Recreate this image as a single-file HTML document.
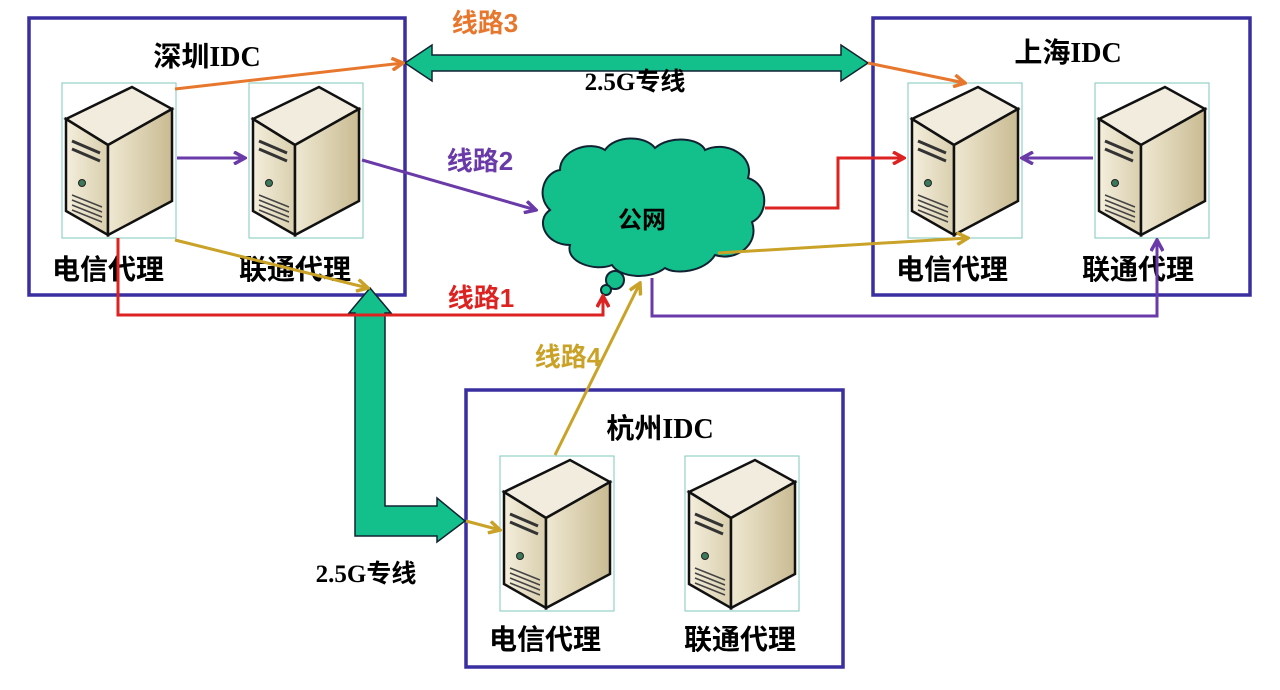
<!DOCTYPE html>
<html><head><meta charset="utf-8"><style>
html,body{margin:0;padding:0;background:#fff;width:1280px;height:690px;overflow:hidden}
text{font-family:"Liberation Serif","Noto Sans CJK SC",sans-serif;font-weight:bold}
.z{font-family:"Liberation Sans","Noto Sans CJK SC",sans-serif;font-weight:bold}
</style></head><body>
<svg width="1280" height="690" viewBox="0 0 1280 690" xmlns="http://www.w3.org/2000/svg">
<defs>
<linearGradient id="gf" x1="0" x2="1"><stop offset="0" stop-color="#f4eedc"/><stop offset="1" stop-color="#d9cfae"/></linearGradient>
<linearGradient id="gs" x1="0" x2="1"><stop offset="0" stop-color="#efe8d2"/><stop offset="1" stop-color="#c9bb92"/></linearGradient>
<symbol id="srv" viewBox="0 0 114 155" width="114" height="155" overflow="visible">
<rect x="0" y="0" width="114" height="155" fill="none" stroke="#7fc8bc" stroke-width="1"/>
<polygon points="4,36 70,4 110,26 46,62" fill="#f1ecde" stroke="#111" stroke-width="2.5"/>
<polygon points="4,36 46,62 46,152 4,128" fill="url(#gf)" stroke="#111" stroke-width="2.5"/>
<polygon points="46,62 110,26 110,118 46,152" fill="url(#gs)" stroke="#111" stroke-width="2.5"/>
<path d="M10,58 L38,70 M10,66 L38,78" stroke="#333" stroke-width="3"/>
<circle cx="20" cy="100" r="3.5" fill="#3a7a5a" stroke="#222"/>
<path d="M10,112 L40,124 M10,117 L40,129 M10,122 L40,134 M10,127 L40,139" stroke="#444" stroke-width="1.5"/>
</symbol>
<marker id="ao" markerWidth="14" markerHeight="14" refX="12" refY="7" orient="auto" markerUnits="userSpaceOnUse"><path d="M1,1 L12,7 L1,13" fill="none" stroke="#e8772e" stroke-width="3.5"/></marker>
<marker id="ap" markerWidth="14" markerHeight="14" refX="12" refY="7" orient="auto" markerUnits="userSpaceOnUse"><path d="M1,1 L12,7 L1,13" fill="none" stroke="#6a3aa8" stroke-width="3.5"/></marker>
<marker id="ar" markerWidth="14" markerHeight="14" refX="12" refY="7" orient="auto" markerUnits="userSpaceOnUse"><path d="M1,1 L12,7 L1,13" fill="none" stroke="#dd2222" stroke-width="3.5"/></marker>
<marker id="ay" markerWidth="14" markerHeight="14" refX="12" refY="7" orient="auto" markerUnits="userSpaceOnUse"><path d="M1,1 L12,7 L1,13" fill="none" stroke="#c9a227" stroke-width="3.5"/></marker>
</defs>

<rect x="29" y="18" width="376" height="277" fill="none" stroke="#3a2fa0" stroke-width="3.5"/>
<rect x="873" y="18" width="377" height="277" fill="none" stroke="#3a2fa0" stroke-width="3.5"/>
<rect x="466" y="390" width="377" height="277" fill="none" stroke="#3a2fa0" stroke-width="3.5"/>

<use href="#srv" x="62" y="83"/>
<use href="#srv" x="249" y="83"/>
<use href="#srv" x="908" y="83"/>
<use href="#srv" x="1095" y="83"/>
<use href="#srv" x="500" y="456"/>
<use href="#srv" x="685" y="456"/>

<text x="207" y="66" font-size="28" text-anchor="middle">深圳IDC</text>
<text x="1068" y="62" font-size="28" text-anchor="middle">上海IDC</text>
<text x="660" y="438" font-size="28" text-anchor="middle">杭州IDC</text>
<g font-size="28" text-anchor="middle">
<text class="z" x="108" y="279">电信代理</text>
<text class="z" x="295" y="279">联通代理</text>
<text class="z" x="952" y="279">电信代理</text>
<text class="z" x="1138" y="279">联通代理</text>
<text class="z" x="545" y="649">电信代理</text>
<text class="z" x="740" y="649">联通代理</text>
</g>

<g fill="#13c08c" stroke="#123" stroke-width="2">
<path d="M560,170 C560,150 590,140 605,150 C615,135 645,135 655,148 C670,135 700,138 705,150 C725,140 755,155 748,178 C770,185 768,215 752,222 C760,245 735,262 715,255 C705,272 675,275 665,268 C650,280 620,278 612,265 C595,272 565,262 570,245 C545,245 535,220 550,210 C535,195 545,172 560,170 Z"/>
<circle cx="615" cy="280" r="9"/>
<circle cx="606" cy="290" r="5"/>
</g>
<text class="z" x="642" y="228" font-size="24" text-anchor="middle">公网</text>

<polygon points="405,63 432,45 432,55 841,55 841,45 868,63 841,81 841,71 432,71 432,81" fill="#13c08c" stroke="#123" stroke-width="1.5"/>
<polygon points="370,288 391,313 385,313 385,506 437,506 437,498 465,521 437,542 437,536 355,536 355,313 349,313" fill="#13c08c" stroke="#123" stroke-width="1.5"/>
<text x="635" y="90" font-size="25" text-anchor="middle">2.5G专线</text>
<text x="366" y="582" font-size="25" text-anchor="middle">2.5G专线</text>

<g fill="none" stroke-width="3">
<path d="M175,89 L403,63" stroke="#e8772e" marker-end="url(#ao)"/>
<path d="M868,63 L965,83" stroke="#e8772e" marker-end="url(#ao)"/>
<path d="M177,158 L245,158" stroke="#6a3aa8" marker-end="url(#ap)"/>
<path d="M362,160 L536,210" stroke="#6a3aa8" marker-end="url(#ap)"/>
<path d="M1093,158 L1022,158" stroke="#6a3aa8" marker-end="url(#ap)"/>
<path d="M652,278 L652,316 L1157,316 L1157,240" stroke="#6a3aa8" marker-end="url(#ap)"/>
<path d="M118,238 L118,315 L603,315 L603,296" stroke="#dd2222" marker-end="url(#ar)"/>
<path d="M765,208 L838,208 L838,158 L904,158" stroke="#dd2222" marker-end="url(#ar)"/>
<path d="M175,240 L368,288" stroke="#c9a227" marker-end="url(#ay)"/>
<path d="M718,253 L968,238" stroke="#c9a227" marker-end="url(#ay)"/>
<path d="M555,455 L640,283" stroke="#c9a227" marker-end="url(#ay)"/>
<path d="M466,521 L500,530" stroke="#c9a227" marker-end="url(#ay)"/>
</g>

<text class="z" x="485" y="32" font-size="26" text-anchor="middle" fill="#e8772e">线路3</text>
<text class="z" x="480" y="170" font-size="26" text-anchor="middle" fill="#6a3aa8">线路2</text>
<text class="z" x="481" y="307" font-size="26" text-anchor="middle" fill="#dd2222">线路1</text>
<text class="z" x="568" y="366" font-size="26" text-anchor="middle" fill="#c9a227">线路4</text>
</svg>
</body></html>
